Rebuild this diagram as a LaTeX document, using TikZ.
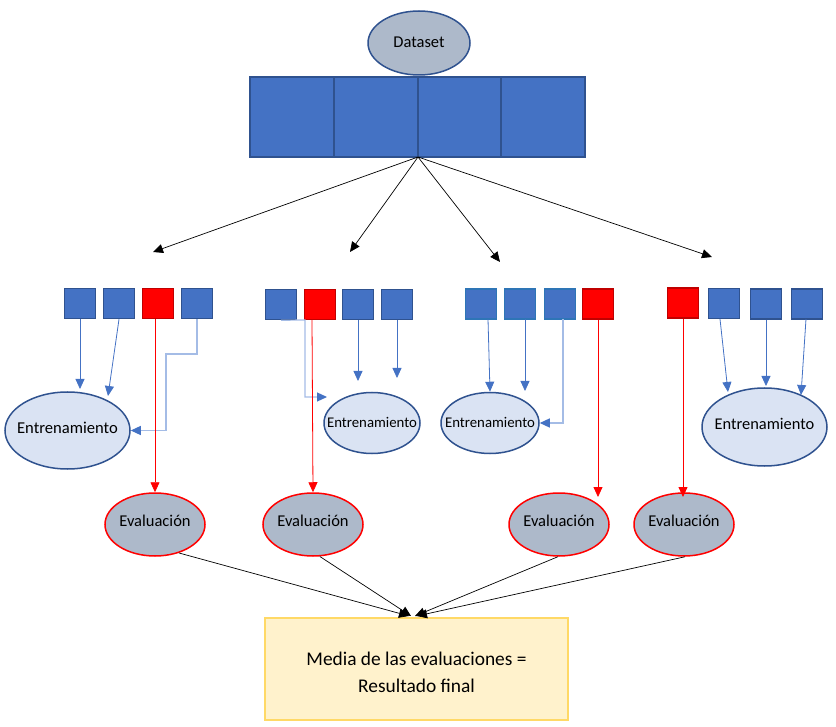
\documentclass[tikz,border=0pt]{standalone}
\usepackage{fontspec}
\setmainfont{Carlito}
\usetikzlibrary{arrows.meta,shapes.geometric}
\definecolor{bfill}{HTML}{4472C4}
\definecolor{bdraw}{HTML}{2F528F}
\definecolor{bdraw3}{HTML}{2E75B6}
\definecolor{rfill}{HTML}{FF0000}
\definecolor{rdraw}{HTML}{C00000}
\definecolor{efill}{HTML}{DAE3F3}
\definecolor{gfill}{HTML}{ADB9CA}
\definecolor{lblue}{HTML}{A4BCE6}
\definecolor{yfill}{HTML}{FFF2CC}
\definecolor{ydraw}{HTML}{FFD966}
\tikzset{
  bsq/.style={draw=bdraw,fill=bfill,line width=1.5pt,minimum width=31pt,minimum height=30pt,inner sep=0pt},
  bsqc/.style={bsq,draw=bdraw3},
  rsq/.style={draw=rdraw,fill=rfill,line width=1.5pt,minimum width=31pt,minimum height=30pt,inner sep=0pt},
  cell/.style={draw=bdraw,fill=bfill,line width=1.5pt,minimum width=84pt,minimum height=80pt,inner sep=0pt},
  ent/.style={ellipse,draw=bdraw,fill=efill,line width=1.5pt,inner sep=0pt},
  eva/.style={ellipse,draw=rfill,fill=gfill,line width=1.5pt,minimum width=100pt,minimum height=63pt,inner sep=0pt,
     label={[font=\fontsize{16.5}{19}\selectfont,yshift=4pt]center:Evaluación}},
  barr/.style={draw=bfill,line width=0.8pt,-{Triangle[length=10pt,width=9pt]}},
  larr/.style={draw=lblue,line width=1.2pt,-{Triangle[length=10pt,width=9pt,fill=bfill,color=bfill]}},
  rarr/.style={draw=rfill,line width=0.8pt,-{Triangle[length=10pt,width=9pt]}},
  karr/.style={draw=black,line width=0.7pt,-{Triangle[length=10pt,width=9pt]}},
}
\begin{document}
\begin{tikzpicture}[x=1pt,y=-1pt]
\useasboundingbox (0,0) rectangle (836,727);
% dataset
\node[ellipse,draw=bdraw,fill=gfill,line width=1.5pt,minimum width=102pt,minimum height=64pt,inner sep=0pt,
  label={[font=\fontsize{16.5}{19}\selectfont,yshift=1pt]center:Dataset}] (ds) at (419,43) {};
\node[cell] (d1) at (292,117) {};
\node[cell] (d2) at (376,117) {};
\node[cell] (d3) at (460,117) {};
\node[cell] (d4) at (543,117) {};
\coordinate (split) at (418,157);
\coordinate (t1) at (153,252);
\coordinate (t2) at (350,252);
\coordinate (t3) at (500,262);
\coordinate (t4) at (712,257);
\foreach \t in {t1,t2,t3,t4} \draw[karr] (split) -- (\t);
% group 1
\node[bsq] (a1) at (80,303.5) {};
\node[bsq] (a2) at (119,303.5) {};
\node[rsq] (a3) at (158,303.5) {};
\node[bsq] (a4) at (197,303.5) {};
% group 2
\node[bsq] (b1) at (281,304.5) {};
\node[rsq] (b2) at (320,304.5) {};
\node[bsq] (b3) at (358,304.5) {};
\node[bsq] (b4) at (397,304.5) {};
% group 3
\node[bsqc] (c1) at (481,304) {};
\node[bsqc] (c2) at (520,304) {};
\node[bsqc] (c3) at (560,304) {};
\node[rsq] (c4) at (598,304) {};
% group 4
\node[rsq] (f1) at (683,303) {};
\node[bsq] (f2) at (724,303.5) {};
\node[bsq] (f3) at (766,304) {};
\node[bsq] (f4) at (807,304) {};
% entrenamiento
\node[ent,minimum width=125pt,minimum height=77pt,
  label={[font=\fontsize{16.6}{19}\selectfont,yshift=3pt]center:Entrenamiento}] (e1) at (67.5,430.5) {};
\node[ent,minimum width=96pt,minimum height=61pt,
  label={[font=\fontsize{14.8}{17}\selectfont,yshift=1pt]center:Entrenamiento}] (e2) at (372,423) {};
\node[ent,minimum width=98pt,minimum height=61pt,
  label={[font=\fontsize{14.8}{17}\selectfont,yshift=1pt]center:Entrenamiento}] (e3) at (490,423) {};
\node[ent,minimum width=125pt,minimum height=78pt,
  label={[font=\fontsize{16.4}{19}\selectfont,yshift=3pt]center:Entrenamiento}] (e4) at (764.5,427) {};
% evaluacion
\node[eva] (v1) at (155,524.5) {};
\node[eva] (v2) at (313,524.5) {};
\node[eva] (v3) at (559,524.5) {};
\node[eva] (v4) at (684,524.5) {};
% result
\node[draw=ydraw,fill=yfill,line width=1.5pt,minimum width=303pt,minimum height=102pt] (res) at (416.5,669) {};
\node[align=center,font=\fontsize{19.4}{27}\selectfont,inner sep=0pt] (restext) at (416.5,672) {Media de las evaluaciones =\\Resultado final};
% group 1 connectors
\draw[barr] (a1.south) -- (80,389);
\draw[barr] (a2.south) -- (108,396);
\draw[larr] (a4.south) |- (166,354) |- (e1.east);
\draw[rarr] (155,319) -- (v1.north);
% group 2 connectors
\coordinate (b1end) at (327,397);
\draw[larr] (b1.south) -- (305,320) |- (b1end);
\coordinate (b3end) at (358,381);
\coordinate (b4end) at (397,378);
\draw[barr] (b3.south) -- (b3end);
\draw[barr] (b4.south) -- (b4end);
\draw[rarr] (312,320) -- (v2.north);
% group 3 connectors
\coordinate (c2end) at (525,391);
\draw[barr] (488,319) -- (e3.north);
\draw[barr] (525,319) -- (c2end);
\draw[larr] (563,319) |- (e3.east);
\draw[rarr] (c4.south) -- (598,497);
% group 4 connectors
\draw[rarr] (f1.south) -- (683,497);
\draw[barr] (720,319) -- (728,392);
\draw[barr] (f3.south) -- (766,386);
\draw[barr] (806,319) -- (801,395);
% to result
\coordinate (r1) at (409,616);
\coordinate (r2) at (411,616);
\coordinate (r3) at (415,616);
\coordinate (r4) at (417,616);
\draw[karr] (v1.-50) -- (r1);
\draw[karr] (v2.-78) -- (r2);
\draw[karr] (v3.-92) -- (r3);
\draw[karr] (v4.-88) -- (r4);
\end{tikzpicture}
\end{document}
